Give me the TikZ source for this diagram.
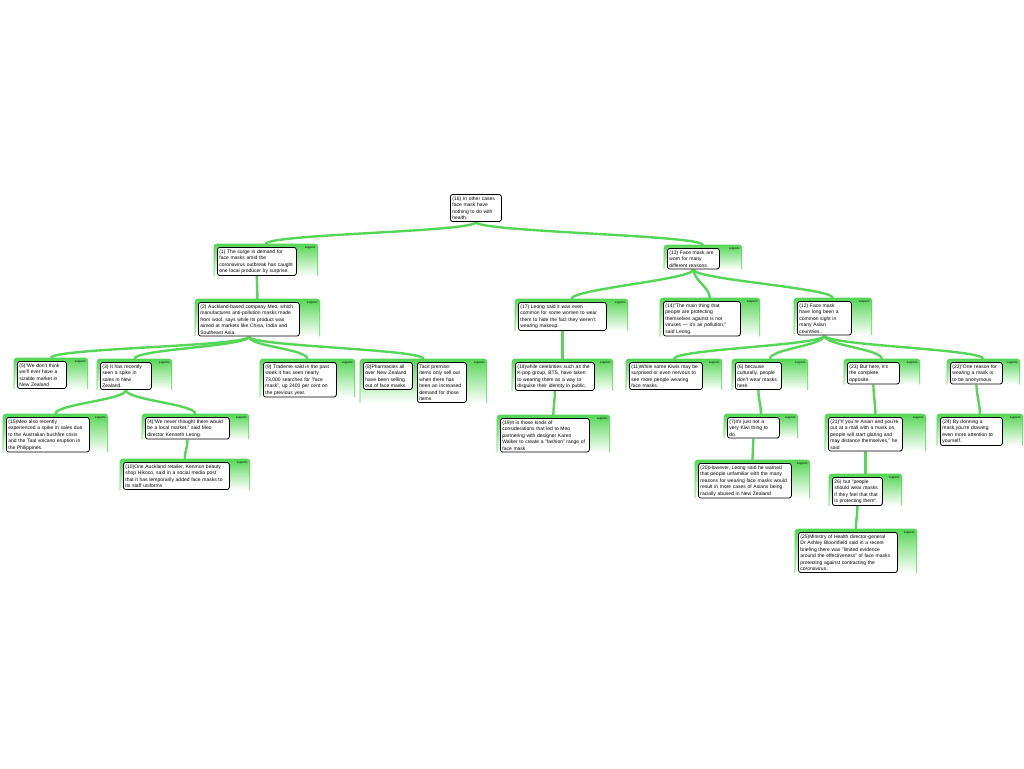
\documentclass[tikz,border=0pt]{standalone}
\usepackage{fontspec}
\setmainfont{Liberation Sans}
\usetikzlibrary{calc,backgrounds}
\definecolor{argreen}{RGB}{86,214,86}
\tikzset{
	claim/.style={draw=black, line width=0.8pt, fill=white, rounded corners=2.5pt, anchor=north west, align=left, inner xsep=2pt, inner ysep=2pt, font=\fontsize{5}{6.5}\selectfont},
	supp/.style={anchor=north east, inner sep=0pt, font=\fontsize{2.8}{3}\selectfont},
	panel/.style={top color=argreen, bottom color=white, rounded corners=3pt},
	rim/.style={draw=argreen, line width=0.8pt, rounded corners=3pt},
	link/.style={draw=argreen, line width=2.4pt}
}

\begin{document}
\begin{tikzpicture}[x=1pt, y=1pt]
	\useasboundingbox (0,0) rectangle (1024,-768);
	\node[claim, text width=47pt] (n16) at (450,-194) {(16) In other cases\\ face mask have\\ nothing to do with\\ health.};
	\node[claim, text width=75pt] (n1) at (217,-247) {(1) The surge in demand for\\ face masks amid the\\ coronavirus outbreak has caught\\ one local producer by surprise.};
	\node[claim, text width=48pt] (n13) at (667,-248) {(13) Face mask are\\ worn for many\\ different reasons.};
	\node[claim, text width=97pt] (n2) at (198,-302) {(2) Auckland-based company Meo, which\\ manufactures anti-pollution masks made\\ from wool, says while its product was\\ aimed at markets like China, India and\\ Southeast Asia.};
	\node[claim, text width=84pt] (n17) at (518,-302) {(17) Leong said it was even\\ common for some women to wear\\ them to hide the fact they weren't\\ wearing makeup.};
	\node[claim, text width=73pt] (n14) at (663,-301) {(14)"The main thing that\\ people are protecting\\ themselves against is not\\ viruses --- it's air pollution,"\\ said Leong.};
	\node[claim, text width=50pt] (n12) at (797,-301) {(12) Face mask\\ have long been a\\ common sight in\\ many Asian\\ countries .};
	\node[claim, text width=45pt] (n5) at (17,-361) {(5)"We don't think\\ we'll ever have a\\ sizable market in\\ New Zealand};
	\node[claim, text width=47pt] (n3) at (100,-362) {(3) It has recently\\ seen a spike in\\ sales in New\\ Zealand.};
	\node[claim, text width=79pt] (n15) at (6,-417) {(15)Meo also recently\\ experienced a spike in sales due\\ to the Australian bushfire crisis\\ and the Taal volcano eruption in\\ the Philippines.};
	\node[claim, text width=80pt] (n4) at (145,-417) {(4)"We never thought there would\\ be a local market," said Meo\\ director Kenneth Leong.};
	\node[claim, text width=102pt] (n10) at (123,-462) {(10)One Auckland retailer, Kenmon beauty\\ shop Hikoco, said in a social media post\\ that it has temporarily added face masks to\\ its staff uniforms};
	\node[claim, text width=69pt] (n9) at (263,-362) {(9) Trademe said in the past\\ week it has seen nearly\\ 73,000 searches for "face\\ mask", up 2400 per cent on\\ the previous year.};
	\node[claim, text width=45pt] (n8) at (363,-362) {(8)Pharmacies all\\ over New Zealand\\ have been selling\\ out of face masks.};
	\node[claim, text width=45pt] (nt) at (417,-362) {Tacit premise:\\ items only sell out\\ when there has\\ been an increased\\ demand for those\\ items};
	\node[claim, text width=75pt] (n18) at (515,-362) {(18)while celebrities such as the\\ K-pop group, BTS, have taken\\ to wearing them as a way to\\ disguise their identity in public.};
	\node[claim, text width=85pt] (n19) at (500,-418) {(19)It is those kinds of\\ considerations that led to Meo\\ partnering with designer Karen\\ Walker to create a "fashion" range of\\ face mask};
	\node[claim, text width=69pt] (n11) at (629,-362) {(11)While some Kiwis may be\\ surprised or even nervous to\\ see more people wearing\\ face masks.};
	\node[claim, text width=42pt] (n6) at (735,-362) {(6) because\\ culturally, people\\ don't wear masks\\ here.};
	\node[claim, text width=48pt] (n23) at (847,-362) {(23) But here, it's\\ the complete\\ opposite.};
	\node[claim, text width=48pt] (n22) at (950,-362) {(22)"One reason for\\ wearing a mask is\\ to be anonymous.};
	\node[claim, text width=48pt] (n7) at (727,-417) {(7)it's just not a\\ very Kiwi thing to\\ do.};
	\node[claim, text width=89pt] (n20) at (698,-463) {(20)However, Leong said he warned\\ that people unfamiliar with the many\\ reasons for wearing face masks would\\ result in more cases of Asians being\\ racially abused in New Zealand};
	\node[claim, text width=70pt] (n21) at (828,-417) {(21)"If you're Asian and you're\\ out at a mall with a mask on,\\ people will start glaring and\\ may distance themselves," he\\ said};
	\node[claim, text width=58pt] (n24) at (940,-417) {(24) By donning a\\ mask,you're drawing\\ even more attention to\\ yourself.};
	\node[claim, text width=46pt] (n26) at (832,-477) {26) but "people\\ should wear masks\\ if they feel that that\\ is protecting them".};
	\node[claim, text width=95pt] (n25) at (798,-532) {(25)Ministry of Health director-general\\ Dr Ashley Bloomfield said in a recent\\ briefing there was "limited evidence\\ around the effectiveness" of face masks\\ protecting against contracting the\\ coronavirus.};
	\begin{scope}[on background layer]
		\foreach \first/\last/\ext in {n1/n1/21, n13/n13/22, n2/n2/20, n17/n17/21, n14/n14/19, n12/n12/20, n5/n5/21, n3/n3/20, n15/n15/18, n4/n4/19, n10/n10/20, n9/n9/18, n8/nt/20, n18/n18/18, n19/n19/20, n11/n11/19, n6/n6/26, n23/n23/20, n22/n22/17, n7/n7/18, n20/n20/18, n21/n21/23, n24/n24/20, n26/n26/19, n25/n25/19}{
			\coordinate (\first-pl) at ($(\first.north west)+(-3,3)$);
			\coordinate (\first-pr) at ($(\last.south east)+(\ext,0)$);
			\coordinate (\first-top) at ($(\first-pl)!0.5!(\first-pl -| \first-pr)$);
		}
		\foreach \up/\down in {n16/n1, n16/n13, n1/n2, n2/n5, n2/n3, n2/n9, n2/n8, n3/n15, n3/n4, n4/n10, n13/n17, n13/n14, n13/n12, n17/n18, n18/n19, n12/n11, n12/n6, n12/n23, n12/n22, n6/n7, n7/n20, n23/n21, n21/n26, n26/n25, n22/n24}
			\draw[link] (\up.south) .. controls +(0,-10) and +(0,10) .. (\down-top);
		\foreach \first in {n1, n13, n2, n17, n14, n12, n5, n3, n15, n4, n10, n9, n8, n18, n19, n11, n6, n23, n22, n7, n20, n21, n24, n26, n25}{
			\shade[panel] (\first-pl) rectangle (\first-pr);
			\draw[rim] (\first-pl |- \first-pr) -- (\first-pl) -- (\first-pl -| \first-pr) -- (\first-pr);
			\node[supp] (\first-sup) at ($(\first-pl -| \first-pr)+(-2,-2)$) {supports};
		}
	\end{scope}
\end{tikzpicture}
\end{document}
